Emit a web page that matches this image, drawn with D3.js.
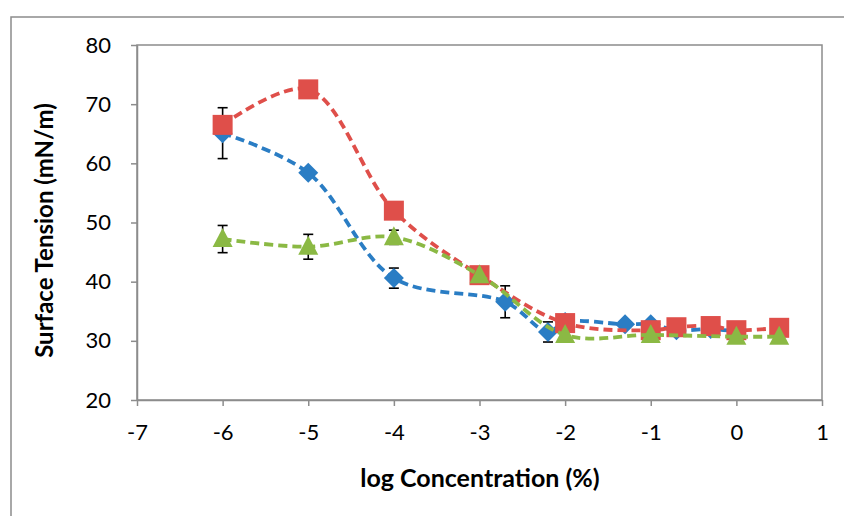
<!DOCTYPE html>
<html><head><meta charset="utf-8">
<script src="https://cdn.jsdelivr.net/npm/d3@7"></script>
<style>body{margin:0;background:#fff;} svg{display:block;}</style>
</head><body>
<svg id="chart" width="844" height="516"></svg>
<script>
// ---- data ----
const xTicks = [-7,-6,-5,-4,-3,-2,-1,0,1];
const yTicks = [20,30,40,50,60,70,80];

const blueX = [-6,-5,-4,-2.7,-2.2,-2,-1.3,-1,-0.7,-0.3,0];
const blueY = [65.1,58.4,40.6,36.6,31.5,33.2,32.8,32.8,31.8,32.0,31.6];
const blueErr = [4.3,0,1.7,2.7,1.7,0,0,0,0,0,0];

const redX = [-6,-5,-4,-3,-2,-1,-0.7,-0.3,0,0.5];
const redY = [66.5,72.5,52.0,41.1,33.0,31.8,32.3,32.5,31.8,32.2];

const greenX = [-6,-5,-4,-3,-2,-1,0,0.5];
const greenY = [47.2,45.9,47.5,41.1,31.0,31.0,30.7,30.7];
const greenErr = [2.3,2.1,1.2,0,0,0,0,0];

const xTitle = "log Concentration (%)";
const yTitle = "Surface Tension (mN/m)";

// ---- layout ----
const svg = d3.select("#chart");
const L = 137, R = 822, T = 45, B = 400;
const x = d3.scaleLinear().domain([-7,1]).range([L,R]);
const y = d3.scaleLinear().domain([20,80]).range([B,T]);
const font = "Lato, 'Open Sans', sans-serif";
const axisGray = "#8c8c8c";

// outer chart border
svg.append("rect").attr("x",11).attr("y",17).attr("width",900).attr("height",600)
  .attr("fill","none").attr("stroke",axisGray).attr("stroke-width",1.5);

// plot box
svg.append("rect").attr("x",L).attr("y",T).attr("width",R-L).attr("height",B-T)
  .attr("fill","none").attr("stroke",axisGray).attr("stroke-width",1.5);

// axes
const xAxis = d3.axisBottom(x).tickValues(xTicks).tickSize(6).tickSizeOuter(0).tickPadding(18).tickFormat(d3.format("d"));
const yAxis = d3.axisLeft(y).tickValues(yTicks).tickSize(6).tickSizeOuter(0).tickPadding(20);
const gx = svg.append("g").attr("transform",`translate(0,${B})`).call(xAxis);
const gy = svg.append("g").attr("transform",`translate(${L},0)`).call(yAxis);
[gx,gy].forEach(g=>{
  g.select(".domain").attr("stroke",axisGray).attr("stroke-width",1.5);
  g.selectAll(".tick line").attr("stroke",axisGray).attr("stroke-width",1.5);
  g.selectAll(".tick text").attr("font-family",font).attr("font-size",22).attr("fill","#000");
});
gx.selectAll(".tick text").text(d=> d<0 ? "-"+Math.abs(d) : d);

// titles
svg.append("text").attr("x",480).attr("y",487).attr("text-anchor","middle")
  .attr("font-family",font).attr("font-weight","bold").attr("font-size",25).text(xTitle);
svg.append("text").attr("transform",`translate(53,${(T+B)/2+8}) rotate(-90)`).attr("text-anchor","middle")
  .attr("font-family",font).attr("font-weight","bold").attr("font-size",24).text(yTitle);

const colors = {blue:"#2a7dc4", red:"#df4f4a", green:"#8bb944"};

function series(xs, ys, color){
  const pts = xs.map((v,i)=>[x(v), y(ys[i])]);
  svg.append("path").attr("d", d3.line().curve(d3.curveCatmullRom.alpha(0.5))(pts))
    .attr("fill","none").attr("stroke",color).attr("stroke-width",3.8)
    .attr("stroke-dasharray","9,5");
  return pts;
}
function errors(xs, ys, es){
  xs.forEach((v,i)=>{
    if(!es[i]) return;
    const cx = x(v), y1 = y(ys[i]+es[i]), y2 = y(ys[i]-es[i]);
    const g = svg.append("g").attr("stroke","#000").attr("stroke-width",1.6);
    g.append("line").attr("x1",cx).attr("x2",cx).attr("y1",y1).attr("y2",y2);
    g.append("line").attr("x1",cx-5).attr("x2",cx+5).attr("y1",y1).attr("y2",y1);
    g.append("line").attr("x1",cx-5).attr("x2",cx+5).attr("y1",y2).attr("y2",y2);
  });
}

// blue series
series(blueX, blueY, colors.blue);
errors(blueX, blueY, blueErr);
svg.append("g").selectAll("path").data(blueX).join("path")
  .attr("transform",(d,i)=>`translate(${x(d)},${y(blueY[i])})`)
  .attr("d","M0,-10L10,0L0,10L-10,0Z").attr("fill",colors.blue);

// red series
series(redX, redY, colors.red);
svg.append("g").selectAll("rect").data(redX).join("rect")
  .attr("x",d=>x(d)-10).attr("y",(d,i)=>y(redY[i])-10).attr("width",20).attr("height",20)
  .attr("fill",colors.red);

// green series
series(greenX, greenY, colors.green);
errors(greenX, greenY, greenErr);
svg.append("g").selectAll("path").data(greenX).join("path")
  .attr("transform",(d,i)=>`translate(${x(d)},${y(greenY[i])})`)
  .attr("d","M0,-11L10,8L-10,8Z").attr("fill",colors.green);
</script>
</body></html>
